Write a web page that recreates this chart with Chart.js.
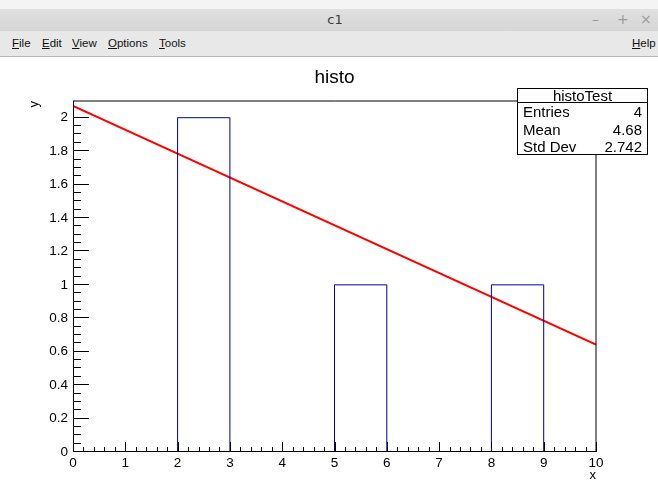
<!DOCTYPE html>
<html>
<head>
<meta charset="utf-8">
<script src="https://cdn.jsdelivr.net/npm/chart.js@4/dist/chart.umd.min.js"></script>
<style>
  html, body { margin:0; padding:0; background:#fff; }
  body { width:658px; height:480px; overflow:hidden; position:relative; font-family:"Liberation Sans", Arial, sans-serif; }
  #topstrip { position:absolute; left:0; top:0; width:658px; height:9px; background:#f4f4f4; }
  #titlebar { position:absolute; left:0; top:9px; width:658px; height:22px; background:linear-gradient(#e0e0e0,#d6d6d6); }
  #titlebar .t { position:absolute; left:0; width:670px; top:3px; text-align:center; font-size:13px; color:#3a3a3a; font-family:"DejaVu Sans", sans-serif; }
  #titlebar .b { position:absolute; top:2px; font-size:14px; color:#9a9a9a; font-family:"DejaVu Sans", sans-serif; }
  #menubar { position:absolute; left:0; top:31px; width:658px; height:25px; background:#e8e8e8; border-bottom:1px solid #b4b4b4; }
  #menubar span { position:absolute; top:6px; font-size:11.5px; color:#111; }
  #cv { position:absolute; left:0; top:57px; }
  #stats { position:absolute; left:517px; top:88px; width:129px; height:65px; border:1px solid #000; background:#fff; font-size:15px; color:#000; }
  #stats .hd { height:13px; line-height:14px; text-align:center; border-bottom:1px solid #000; }
  #stats .row { position:relative; height:17.5px; line-height:18px; }
  #stats .row .l { position:absolute; left:5px; }
  #stats .row .r { position:absolute; right:5px; }
</style>
</head>
<body>
<div id="topstrip"></div>
<div id="titlebar"><div class="t">c1</div><span class="b" style="left:592px">–</span><span class="b" style="left:617px">+</span><span class="b" style="left:640px">×</span></div>
<div id="menubar">
  <span style="left:12px"><u>F</u>ile</span>
  <span style="left:42px"><u>E</u>dit</span>
  <span style="left:72px"><u>V</u>iew</span>
  <span style="left:108px"><u>O</u>ptions</span>
  <span style="left:159px"><u>T</u>ools</span>
  <span style="left:632px"><u>H</u>elp</span>
</div>
<canvas id="cv" width="658" height="423"></canvas>
<div id="stats">
  <div class="hd">histoTest</div>
  <div class="row"><span class="l">Entries</span><span class="r">4</span></div>
  <div class="row"><span class="l">Mean</span><span class="r">4.68</span></div>
  <div class="row"><span class="l">Std Dev</span><span class="r">2.742</span></div>
</div>
<script>
// ---- data ----
const chartTitle = 'histo';
const binEdges = [0, 1, 2, 3, 4, 5, 6, 7, 8, 9, 10];
const binContents = [0, 0, 2, 0, 0, 1, 0, 0, 1, 0];
const fitX = [0, 10];
const fitY = [2.071, 0.643];
const xTickValues = [0, 1, 2, 3, 4, 5, 6, 7, 8, 9, 10];
const xTickLabels = ['0', '1', '2', '3', '4', '5', '6', '7', '8', '9', '10'];
const yTickValues = [0, 0.2, 0.4, 0.6, 0.8, 1, 1.2, 1.4, 1.6, 1.8, 2];
const yTickLabels = ['0', '0.2', '0.4', '0.6', '0.8', '1', '1.2', '1.4', '1.6', '1.8', '2'];
const xRange = [0, 10];
const yRange = [0, 2.1];
const xMinorStep = 0.2;
const yMinorStep = 0.05;

// each bin's content is held from its low edge to its high edge
const histPoints = binEdges.map((x, i) => ({ x: x, y: binContents[Math.min(i, binContents.length - 1)] }));
const fitPoints = fitX.map((x, i) => ({ x: x, y: fitY[i] }));

const FONT = '"Liberation Sans", Arial, sans-serif';

const rootFrame = {
  id: 'rootFrame',
  afterDatasetsDraw(chart) {
    const ctx = chart.ctx;
    const a = chart.chartArea;
    const xs = chart.scales.x, ys = chart.scales.y;
    ctx.save();
    ctx.strokeStyle = '#000';
    ctx.lineWidth = 1;
    ctx.beginPath();
    ctx.moveTo(a.left, a.top); ctx.lineTo(a.right, a.top); ctx.lineTo(a.right, a.bottom);
    ctx.stroke();
    ctx.beginPath();
    ctx.moveTo(Math.round(a.left) + 0.5, a.top); ctx.lineTo(Math.round(a.left) + 0.5, a.bottom);
    ctx.moveTo(a.left, Math.round(a.bottom) - 0.5); ctx.lineTo(a.right, Math.round(a.bottom) - 0.5);
    ctx.stroke();
    ctx.beginPath();
    const n = Math.round((yRange[1] - yRange[0]) / yMinorStep);
    for (let i = 0; i <= n; i++) {
      const v = yRange[0] + i * yMinorStep;
      if (v > yTickValues[yTickValues.length - 1] + 1e-9) break;
      const isMajor = yTickValues.some(t => Math.abs(t - v) < 1e-9);
      const py = Math.round(ys.getPixelForValue(v)) - 0.5;
      ctx.moveTo(a.left, py); ctx.lineTo(a.left + (isMajor ? 16 : 8), py);
    }
    const m = Math.round((xRange[1] - xRange[0]) / xMinorStep);
    for (let i = 0; i <= m; i++) {
      const v = xRange[0] + i * xMinorStep;
      const isMajor = xTickValues.some(t => Math.abs(t - v) < 1e-9);
      const px = Math.round(xs.getPixelForValue(v)) + 0.5;
      ctx.moveTo(px, a.bottom); ctx.lineTo(px, a.bottom - (isMajor ? 10 : 5));
    }
    ctx.stroke();
    ctx.restore();
  }
};

new Chart(document.getElementById('cv'), {
  type: 'line',
  data: {
    datasets: [
      {
        label: 'histoTest',
        data: histPoints,
        stepped: 'before',
        borderColor: '#000099',
        borderWidth: 1,
        pointRadius: 0,
        fill: false
      },
      {
        label: 'fit',
        data: fitPoints,
        borderColor: '#ff0000',
        borderWidth: 2,
        pointRadius: 0,
        fill: false
      }
    ]
  },
  plugins: [rootFrame],
  options: {
    responsive: false,
    animation: false,
    devicePixelRatio: 1,
    layout: { padding: { left: 0, top: 0, right: 62, bottom: 0 } },
    plugins: {
      legend: { display: false },
      tooltip: { enabled: false },
      title: {
        display: true,
        text: chartTitle,
        fullSize: false,
        color: '#000',
        font: { family: FONT, size: 19, weight: 'normal', lineHeight: 1.2 },
        padding: { top: 9.6, bottom: 11.6 }
      }
    },
    scales: {
      x: {
        type: 'linear',
        min: xRange[0],
        max: xRange[1],
        afterBuildTicks: s => { s.ticks = xTickValues.map(v => ({ value: v })); },
        afterFit: s => { s.height = 28; },
        grid: { display: false, drawTicks: false },
        border: { display: false },
        ticks: {
          autoSkip: false, maxRotation: 0, padding: 3, color: '#000',
          font: { family: FONT, size: 13.5 },
          callback: (v, i) => xTickLabels[i]
        },
        title: {
          display: true, text: 'x', align: 'end', color: '#000',
          font: { family: FONT, size: 13, lineHeight: 1 }, padding: { top: 0, bottom: -2 }
        }
      },
      y: {
        type: 'linear',
        min: yRange[0],
        max: yRange[1],
        afterBuildTicks: s => { s.ticks = yTickValues.map(v => ({ value: v })); },
        afterFit: s => { s.width = 73; },
        grid: { display: false, drawTicks: false },
        border: { display: false },
        ticks: {
          autoSkip: false, padding: 5, color: '#000',
          font: { family: FONT, size: 13.5 },
          callback: (v, i) => yTickLabels[i]
        },
        title: {
          display: true, text: 'y', align: 'end', color: '#000',
          font: { family: FONT, size: 13, lineHeight: 1.2 }, padding: { top: 27, bottom: 0 }
        }
      }
    }
  }
});
</script>
</body>
</html>
